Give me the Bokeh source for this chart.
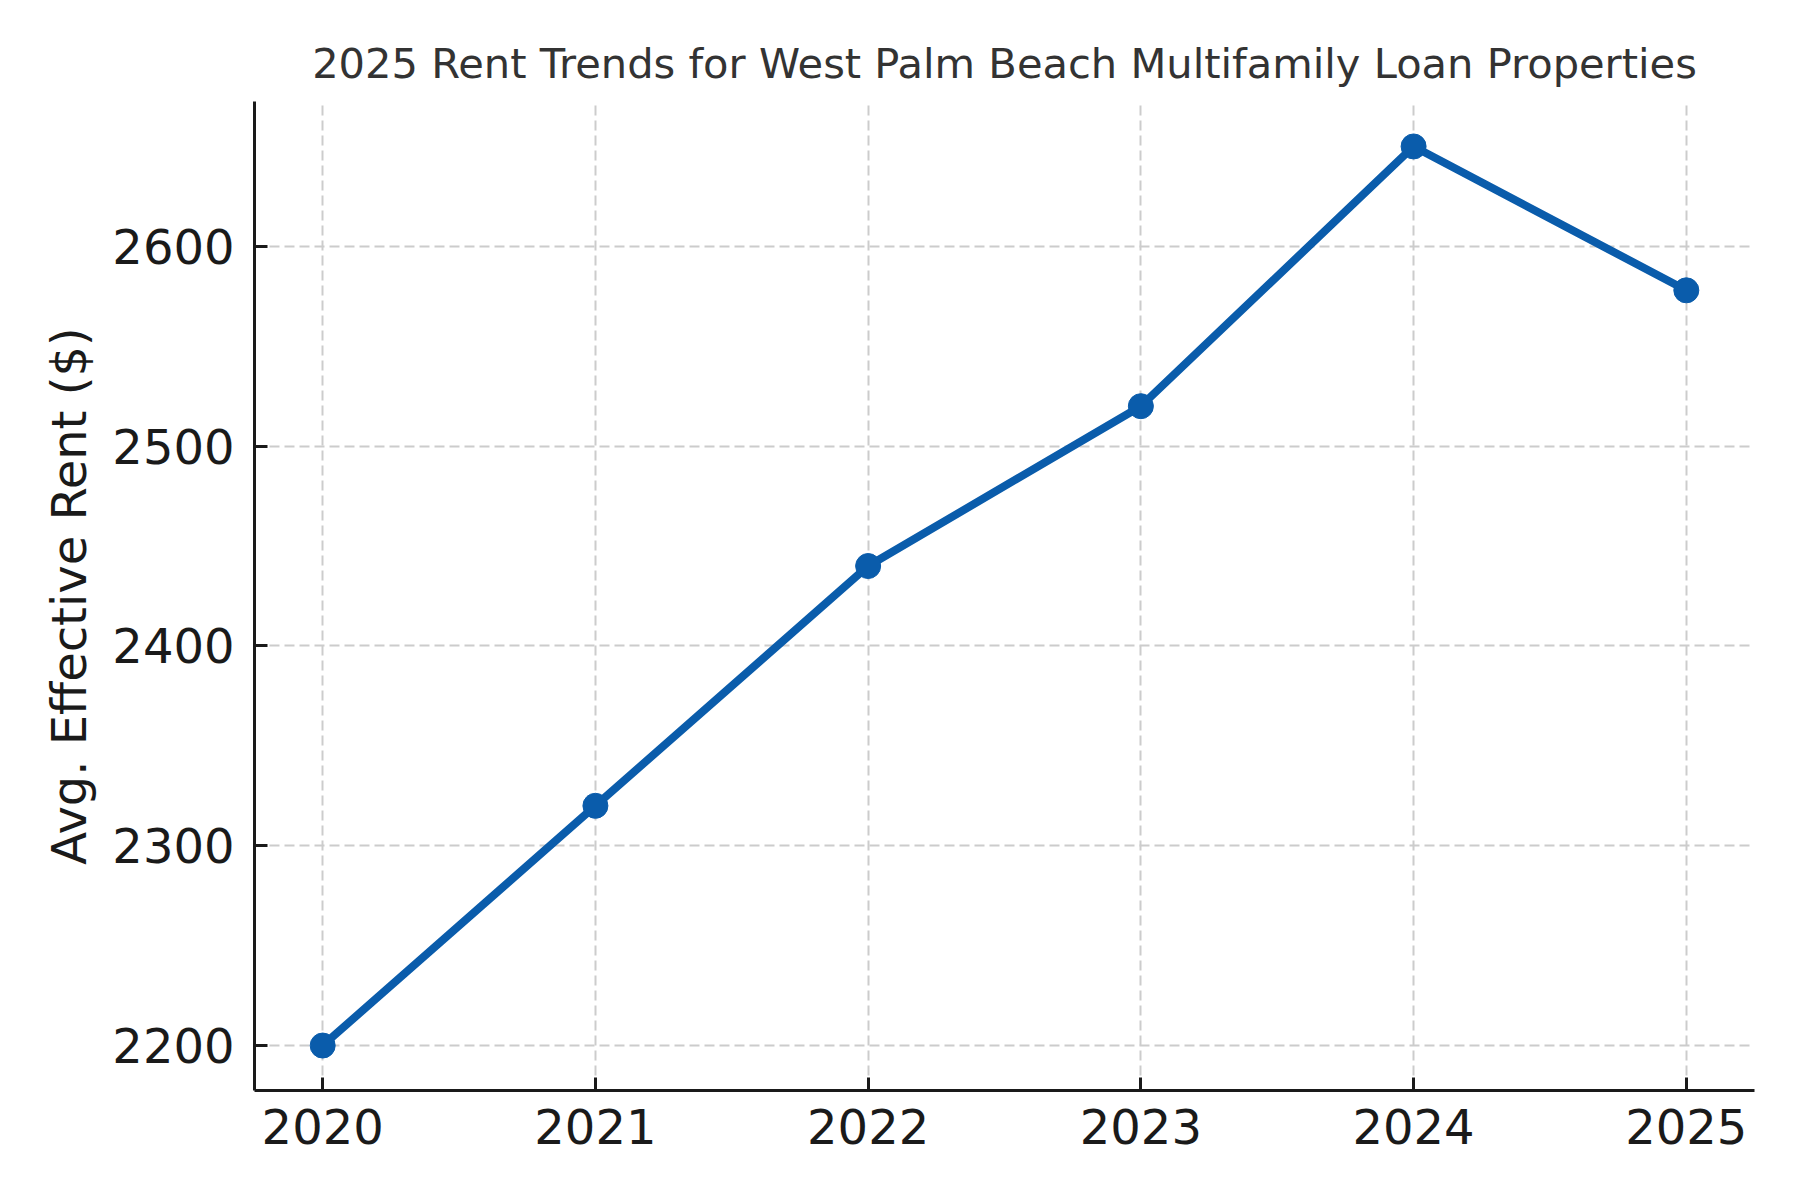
from bokeh.plotting import figure
from bokeh.models import FixedTicker, Range1d
from bokeh.embed import file_html
from bokeh.resources import INLINE

years = [2020, 2021, 2022, 2023, 2024, 2025]
rent = [2200, 2320, 2440, 2520, 2650, 2578]
y_ticks = [2200, 2300, 2400, 2500, 2600]
title = "2025 Rent Trends for West Palm Beach Multifamily Loan Properties"
y_label = "Avg. Effective Rent ($)"

FONT = "DejaVu Sans"
BLUE = "#0a5cab"

p = figure(width=1792, height=1192, output_backend="svg", toolbar_location=None,
           x_range=Range1d(2019.75, 2025.25), y_range=Range1d(2177.5, 2672.5),
           min_border_left=254, min_border_right=38, min_border_top=101, min_border_bottom=102)
p.outline_line_color = None
p.background_fill_color = "white"
p.border_fill_color = "white"

p.title.text = title
p.title.text_font = FONT
p.title.text_font_size = "41.6px"
p.title.text_font_style = "normal"
p.title.text_color = "#333333"
p.title.align = "center"
p.title.standoff = 27

p.line(years, rent, line_color=BLUE, line_width=8)
p.scatter(years, rent, size=25, fill_color=BLUE, line_color=BLUE)

for ax in (p.xaxis[0], p.yaxis[0]):
    ax.axis_line_color = "#1a1a1a"
    ax.axis_line_width = 3
    ax.major_tick_line_color = "#1a1a1a"
    ax.major_tick_line_width = 3
    ax.major_tick_in = 13
    ax.major_tick_out = 0
    ax.minor_tick_line_color = None
    ax.major_label_text_font = FONT
    ax.major_label_text_font_size = "48px"
    ax.major_label_text_color = "#1a1a1a"
    ax.axis_label_text_font = FONT
    ax.axis_label_text_font_size = "48px"
    ax.axis_label_text_font_style = "normal"
    ax.axis_label_text_color = "#1a1a1a"

p.xaxis[0].ticker = FixedTicker(ticks=years)
p.yaxis[0].ticker = FixedTicker(ticks=y_ticks)
p.xaxis[0].major_label_standoff = 18
p.yaxis[0].major_label_standoff = 20
p.yaxis[0].axis_label = y_label
p.yaxis[0].axis_label_standoff = 12

for g in (p.xgrid[0], p.ygrid[0]):
    g.grid_line_color = "#cccccc"
    g.grid_line_width = 2
    g.grid_line_dash = "10 5"
p.xgrid[0].ticker = FixedTicker(ticks=years)
p.ygrid[0].ticker = FixedTicker(ticks=y_ticks)

open("out.html", "w").write(file_html(p, INLINE))
